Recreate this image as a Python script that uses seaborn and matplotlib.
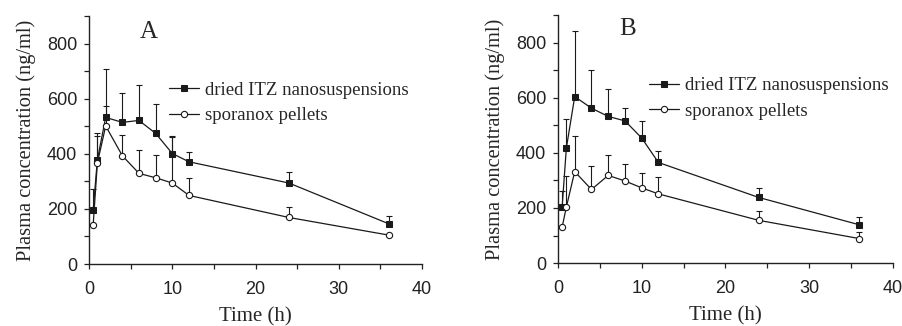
import numpy as np
import pandas as pd
import matplotlib
matplotlib.use("Agg")
import matplotlib.pyplot as plt
from matplotlib.ticker import MultipleLocator
import seaborn as sns

# Sampling times (h)
time = [0.5, 1, 2, 4, 6, 8, 10, 12, 24, 36]

# Panel A
a_itz = [195, 378, 532, 514, 521, 474, 401, 371, 294, 146]
a_itz_err = [77, 97, 176, 107, 127, 105, 62, 35, 40, 30]
a_spo = [143, 366, 501, 393, 329, 313, 294, 249, 169, 105]
a_spo_err = [0, 97, 71, 77, 83, 83, 168, 62, 38, 0]

# Panel B
b_itz = [205, 417, 604, 562, 532, 516, 454, 365, 238, 139]
b_itz_err = [58, 105, 239, 138, 101, 47, 61, 41, 34, 29]
b_spo = [131, 203, 332, 267, 318, 298, 273, 251, 155, 89]
b_spo_err = [0, 114, 130, 84, 75, 61, 53, 62, 34, 23]

series_names = ["dried ITZ nanosuspensions", "sporanox pellets"]
panel_letters = ["A", "B"]

sns.set_style("ticks")
plt.rcParams["font.family"] = ["Liberation Sans", "DejaVu Sans"]
serif = ["Liberation Serif", "DejaVu Serif"]

fig = plt.figure(figsize=(9.02, 3.26), dpi=100)
axA = fig.add_axes([0.0987, 0.190, 0.3693, 0.761])
axB = fig.add_axes([0.6186, 0.193, 0.3711, 0.761])

# ax, data, letter position, legend anchor
panels = [
    (axA, a_itz, a_itz_err, a_spo, a_spo_err, (0.18, 0.935), (0.218, 0.765)),
    (axB, b_itz, b_itz_err, b_spo, b_spo_err, (0.209, 0.944), (0.25, 0.78)),
]

for (ax, itz, itz_err, spo, spo_err, letter_pos, leg_pos), letter in zip(panels, panel_letters):
    df = pd.DataFrame({
        "time": time * 2,
        "conc": itz + spo,
        "group": [series_names[0]] * len(time) + [series_names[1]] * len(time),
    })
    # upper-only error bars
    ax.errorbar(time, itz, yerr=[np.zeros(len(time)), itz_err], fmt="none",
                ecolor="#1a1a1a", elinewidth=0.8, capsize=2.5, capthick=0.8, zorder=1)
    ax.errorbar(time, spo, yerr=[np.zeros(len(time)), spo_err], fmt="none",
                ecolor="#1a1a1a", elinewidth=0.8, capsize=2.5, capthick=0.8, zorder=1)
    sns.lineplot(data=df[df.group == series_names[0]], x="time", y="conc", ax=ax,
                 color="#1a1a1a", lw=0.9, marker="s", markersize=4.2,
                 markerfacecolor="#1a1a1a", markeredgecolor="#1a1a1a",
                 label=series_names[0], zorder=3)
    sns.lineplot(data=df[df.group == series_names[1]], x="time", y="conc", ax=ax,
                 color="#1a1a1a", lw=0.9, marker="o", markersize=4.5,
                 markerfacecolor="white", markeredgecolor="#1a1a1a", markeredgewidth=0.8,
                 label=series_names[1], zorder=3)

    ax.set_xlim(0, 40)
    ax.set_ylim(0, 900)
    ax.xaxis.set_major_locator(MultipleLocator(10))
    ax.xaxis.set_minor_locator(MultipleLocator(5))
    ax.yaxis.set_major_locator(MultipleLocator(200))
    ax.yaxis.set_minor_locator(MultipleLocator(100))
    ax.tick_params(which="both", direction="out", length=3.5, width=0.9, colors="#222222",
                   labelsize=13)
    ax.tick_params(axis="x", pad=9)
    ax.tick_params(axis="y", pad=5)
    for s in ["top", "right"]:
        ax.spines[s].set_visible(False)
    for s in ["left", "bottom"]:
        ax.spines[s].set_linewidth(1.0)
        ax.spines[s].set_color("#222222")

    ax.set_xlabel("Time (h)", family=serif, fontsize=15, labelpad=6)
    ax.set_ylabel("Plasma concentration (ng/ml)", family=serif, fontsize=14.7, labelpad=8)
    ax.text(*letter_pos, letter, transform=ax.transAxes, family=serif, fontsize=18,
            ha="center", va="center")

    ax.legend(loc="upper left", bbox_to_anchor=leg_pos,
              frameon=False, prop={"family": serif, "size": 13.5},
              handlelength=1.6, handletextpad=0.3, labelspacing=0.45,
              borderaxespad=0)

fig.savefig("out.png", dpi=100)
